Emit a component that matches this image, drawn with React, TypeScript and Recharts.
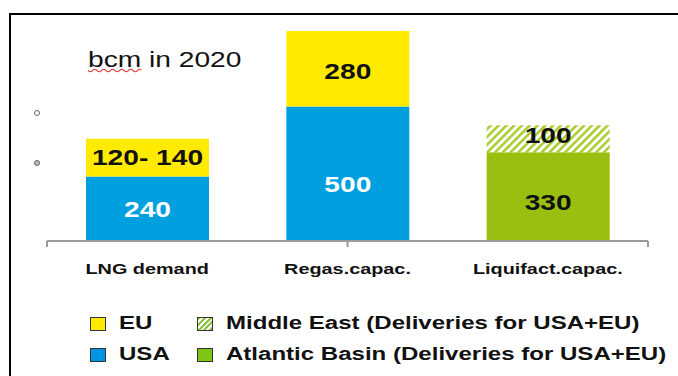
import React from 'react';
import { BarChart, Bar, XAxis, YAxis, LabelList } from 'recharts';

// values in bcm
const categories = ['LNG demand', 'Regas.capac.', 'Liquifact.capac.'];
const usa = [240, 500, 0];
const eu = [140, 280, 0];
const atlantic = [0, 0, 330];
const middleEast = [0, 0, 100];
const usaLabels = ['240', '500', ''];
const euLabels = ['120- 140', '280', ''];
const atlanticLabels = ['', '', '330'];
const middleEastLabels = ['', '', '100'];
const edgeTicks = [0, 1, 2, 3];

const data = categories.map((name, i) => ({
  name,
  usa: usa[i],
  eu: eu[i],
  atlantic: atlantic[i],
  middleEast: middleEast[i],
  usaLabel: usaLabels[i],
  euLabel: euLabels[i],
  atlanticLabel: atlanticLabels[i],
  middleEastLabel: middleEastLabels[i],
}));

const BLUE = '#009FDF';
const YELLOW = '#FFEA00';
const GREEN = '#99BF10';
const FONT = '"Liberation Sans", Arial, sans-serif';
const SX = 1.28; // the original slide is stretched sideways

// small vertical nudges for the value labels
const nudge: Record<string, number> = { '500': 10, '330': 6, '100': -4, '280': 2 };

const makeLabel = (color: string) => (props: any) => {
  const { x, y, width, height, value } = props;
  if (!value) return null;
  const cx = Number(x) + Number(width) / 2;
  const cy = Number(y) + Number(height) / 2 + (nudge[value] || 0);
  return (
    <text
      transform={`translate(${cx} ${cy}) scale(${SX} 1)`}
      textAnchor="middle"
      dominantBaseline="central"
      fill={color}
      fontFamily={FONT}
      fontWeight="bold"
      fontSize={22}
    >
      {value}
    </text>
  );
};

const CategoryTick = (props: any) => {
  const { x, y, payload } = props;
  return (
    <text
      transform={`translate(${x} ${y}) scale(${SX} 1)`}
      textAnchor="middle"
      dy={17}
      fill="#111"
      fontFamily={FONT}
      fontWeight="bold"
      fontSize={15.5}
    >
      {payload.value}
    </text>
  );
};

const NoLabel = () => <g />;

const Stretch = ({ children, style }: { children: React.ReactNode; style?: React.CSSProperties }) => (
  <span
    style={{
      display: 'inline-block',
      transform: `scaleX(${SX})`,
      transformOrigin: 'left center',
      whiteSpace: 'nowrap',
      ...style,
    }}
  >
    {children}
  </span>
);

const legendRows = [
  [
    { name: 'EU', swatch: YELLOW },
    { name: 'Middle East (Deliveries for USA+EU)', swatch: 'hatch' },
  ],
  [
    { name: 'USA', swatch: '#0094E4' },
    { name: 'Atlantic Basin (Deliveries for USA+EU)', swatch: '#7DC416' },
  ],
];

export default function App() {
  return (
    <div
      style={{
        position: 'absolute',
        left: 0,
        top: 0,
        width: 678,
        height: 376,
        overflow: 'hidden',
        background: '#fff',
        fontFamily: FONT,
      }}
    >
      <div
        style={{
          position: 'absolute',
          left: 9,
          top: 13,
          width: 720,
          height: 420,
          border: '2px solid #000',
        }}
      />
      <div style={{ position: 'absolute', left: 88, top: 47, fontSize: 22, color: '#111' }}>
        <Stretch>
          <span style={{ textDecoration: 'underline wavy #e03030', textDecorationThickness: 1 }}>bcm</span> in 2020
        </Stretch>
      </div>
      <svg style={{ position: 'absolute', left: 0, top: 0 }} width={678} height={376}>
        <circle cx={37} cy={113} r={2.5} fill="none" stroke="#666" strokeWidth={1} />
        <circle cx={37} cy={163} r={2.5} fill="#bbb" stroke="#666" strokeWidth={1} />
      </svg>
      <div style={{ position: 'absolute', left: 0, top: 0 }}>
        <BarChart
          width={678}
          height={376}
          data={data}
          margin={{ top: 31, right: 30, left: 47, bottom: 97 }}
          barCategoryGap={0}
        >
          <defs>
            <pattern id="hatch" patternUnits="userSpaceOnUse" width={5.5} height={5.5} patternTransform="rotate(45)">
              <rect width={5.5} height={5.5} fill="#fff" />
              <rect width={2.5} height={5.5} fill="#a8cc2a" />
            </pattern>
          </defs>
          <YAxis hide width={0} domain={[0, 780]} />
          <XAxis
            xAxisId="b"
            dataKey="name"
            axisLine={false}
            tickLine={false}
            height={30}
            tick={<CategoryTick />}
            interval={0}
          />
          <XAxis
            xAxisId="a"
            type="number"
            domain={[0, 3]}
            ticks={edgeTicks}
            tick={<NoLabel />}
            tickSize={6}
            height={8}
            interval={0}
            axisLine={{ stroke: '#9a9a9a', strokeWidth: 2 }}
            tickLine={{ stroke: '#9a9a9a', strokeWidth: 2 }}
          />
          <Bar dataKey="usa" stackId="s" xAxisId="b" fill={BLUE} barSize={123} isAnimationActive={false}>
            <LabelList dataKey="usaLabel" content={makeLabel('#fff')} />
          </Bar>
          <Bar dataKey="atlantic" stackId="s" xAxisId="b" fill={GREEN} barSize={123} isAnimationActive={false}>
            <LabelList dataKey="atlanticLabel" content={makeLabel('#111')} />
          </Bar>
          <Bar dataKey="eu" stackId="s" xAxisId="b" fill={YELLOW} barSize={123} isAnimationActive={false}>
            <LabelList dataKey="euLabel" content={makeLabel('#111')} />
          </Bar>
          <Bar dataKey="middleEast" stackId="s" xAxisId="b" fill="url(#hatch)" barSize={123} isAnimationActive={false}>
            <LabelList dataKey="middleEastLabel" content={makeLabel('#111')} />
          </Bar>
        </BarChart>
      </div>
      {legendRows.map((row, r) => (
        <div key={r}>
          {row.map((item, c) => {
            const left = c === 0 ? 90 : 197;
            const top = r === 0 ? 317 : 348;
            return (
              <React.Fragment key={item.name}>
                <div
                  style={{
                    position: 'absolute',
                    left,
                    top,
                    width: 14,
                    height: 12,
                    border: '1px solid #333',
                    background:
                      item.swatch === 'hatch'
                        ? 'repeating-linear-gradient(135deg, #8cc63f 0px, #8cc63f 2px, #fff 2px, #fff 4px)'
                        : item.swatch,
                  }}
                />
                <div
                  style={{
                    position: 'absolute',
                    left: left + 29,
                    top: top - 6,
                    fontSize: 18.8,
                    fontWeight: 'bold',
                    color: '#111',
                    lineHeight: '24px',
                  }}
                >
                  <Stretch>{item.name}</Stretch>
                </div>
              </React.Fragment>
            );
          })}
        </div>
      ))}
    </div>
  );
}
